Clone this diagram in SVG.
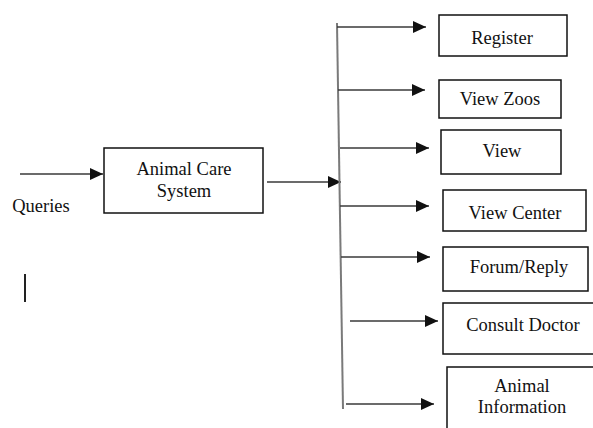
<svg xmlns="http://www.w3.org/2000/svg" width="593" height="428" viewBox="0 0 593 428">
<style>
.box{fill:#fff;stroke:#111;stroke-width:1.5}
.t{font-family:'Liberation Serif','DejaVu Serif','Times New Roman',Times,serif;font-size:18.5px;fill:#111;text-anchor:middle}
.ln{stroke:#3a3a3a;stroke-width:1.7;fill:none}
</style>
<defs>
<marker id="ah" markerUnits="userSpaceOnUse" markerWidth="14" markerHeight="12" refX="13" refY="6" orient="auto">
<path d="M0,0 L13,6 L0,12 Z" fill="#111"/>
</marker>
</defs>
<rect width="593" height="428" fill="#fff"/>
<g id="connectors">
<line class="ln" x1="20" y1="174" x2="103" y2="174" marker-end="url(#ah)"/>
<line class="ln" x1="267" y1="182" x2="341" y2="182" marker-end="url(#ah)"/>
<line x1="337" y1="23" x2="343" y2="409" stroke="#7a7a7a" stroke-width="2"/>
<line class="ln" x1="337" y1="27" x2="426" y2="27" marker-end="url(#ah)"/>
<line class="ln" x1="338" y1="90" x2="425" y2="90" marker-end="url(#ah)"/>
<line class="ln" x1="340" y1="148" x2="429" y2="148" marker-end="url(#ah)"/>
<line class="ln" x1="340" y1="206" x2="429" y2="206" marker-end="url(#ah)"/>
<line class="ln" x1="341" y1="257" x2="430" y2="257" marker-end="url(#ah)"/>
<line class="ln" x1="350" y1="321" x2="438" y2="321" marker-end="url(#ah)"/>
<line class="ln" x1="346" y1="404" x2="434" y2="404" marker-end="url(#ah)"/>
<line x1="25" y1="274" x2="25" y2="302" stroke="#222" stroke-width="2"/>
</g>
<g id="queries"><text class="t" x="41" y="212">Queries</text></g>
<g id="main">
<rect class="box" x="104" y="148" width="159" height="65"/>
<text class="t" x="184" y="175">Animal Care</text>
<text class="t" x="184" y="197">System</text>
</g>
<g id="register"><rect class="box" x="439" y="15" width="128" height="41"/><text class="t" x="502" y="44">Register</text></g>
<g id="viewzoos"><rect class="box" x="439" y="80" width="122" height="38"/><text class="t" x="500" y="105">View Zoos</text></g>
<g id="view"><rect class="box" x="441" y="130" width="120" height="44"/><text class="t" x="502" y="157">View</text></g>
<g id="viewcenter"><rect class="box" x="443" y="190" width="143" height="41"/><text class="t" x="515" y="219">View Center</text></g>
<g id="forum"><rect class="box" x="443" y="247" width="145" height="44"/><text class="t" x="519" y="273">Forum/Reply</text></g>
<g id="consult"><rect class="box" x="443" y="303" width="152" height="51"/><text class="t" x="523" y="331">Consult Doctor</text></g>
<g id="animalinfo"><rect class="box" x="447" y="367" width="150" height="70"/><text class="t" x="522" y="392">Animal</text><text class="t" x="522" y="413">Information</text></g>
</svg>
